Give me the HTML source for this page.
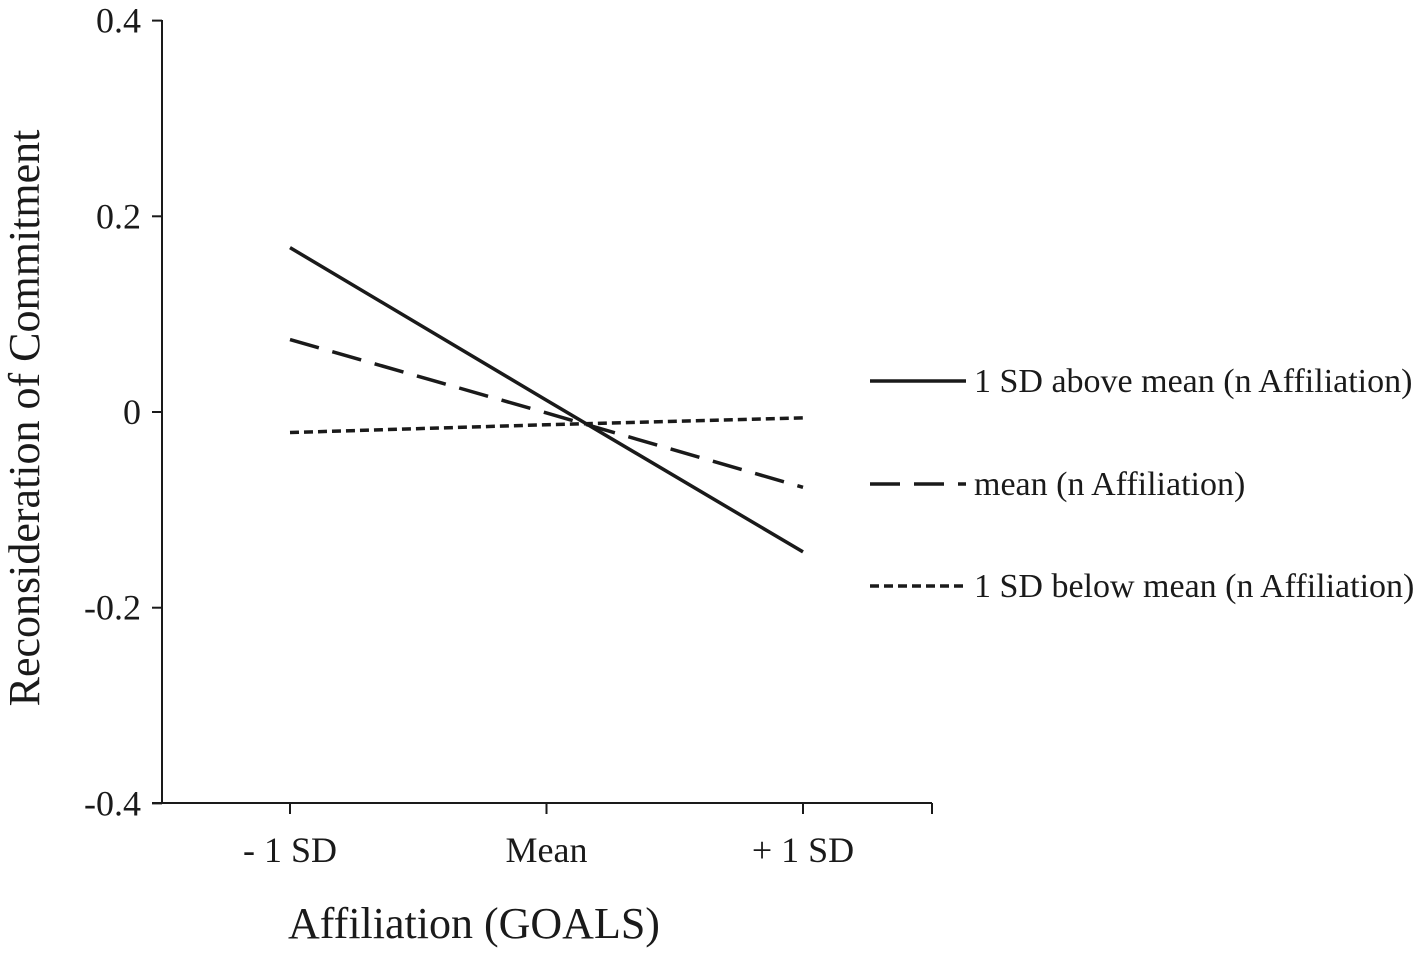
<!DOCTYPE html>
<html><head><meta charset="utf-8"><style>
body{margin:0;background:#fff}
svg text{font-family:"Liberation Serif",serif;fill:#1a1a1a}
</style></head><body>
<svg width="1421" height="950" xmlns="http://www.w3.org/2000/svg">
<g id="plot"></g>
</svg>
<script>
const categories=["- 1 SD","Mean","+ 1 SD"];
const yTicks=[0.4,0.2,0,-0.2,-0.4];
const yTickLabels=["0.4","0.2","0","-0.2","-0.4"];
const seriesNames=["1 SD above mean (n Affiliation)","mean (n Affiliation)","1 SD below mean (n Affiliation)"];
const aboveVals=[0.168,0.012,-0.143];
const meanVals=[0.074,-0.001,-0.077];
const belowVals=[-0.021,-0.013,-0.006];
const dashes=["none","30,14","9,5"];
const NS="http://www.w3.org/2000/svg";
const g=document.getElementById('plot');
const yS=v=>412-v*978.5;
const xS=i=>290+i*256.5;
function el(t,a,txt){const e=document.createElementNS(NS,t);for(const k in a)e.setAttribute(k,a[k]);if(txt!==undefined)e.textContent=txt;g.appendChild(e);return e;}
let e;
e=el('line',{x1:162,y1:20,x2:162,y2:803,stroke:'#1a1a1a','stroke-width':2});


e=el('line',{x1:152,y1:803,x2:932,y2:803,stroke:'#1a1a1a','stroke-width':2});


yTicks.forEach((v,i)=>{
 e=el('line',{x1:152,y1:yS(v),x2:162,y2:yS(v),stroke:'#1a1a1a','stroke-width':2});
 
 
 e=el('text',{x:141,y:yS(v)+12,'text-anchor':'end','font-size':36},yTickLabels[i]);
 
 
});
categories.forEach((c,i)=>{
 e=el('line',{x1:xS(i),y1:803,x2:xS(i),y2:814,stroke:'#1a1a1a','stroke-width':2});
 
 
 e=el('text',{x:xS(i),y:862,'text-anchor':'middle','font-size':36},c);
 
 
});
e=el('line',{x1:932,y1:803,x2:932,y2:814,stroke:'#1a1a1a','stroke-width':2});


e=el('text',{x:474,y:938,'text-anchor':'middle','font-size':44},"Affiliation (GOALS)");


e=el('text',{x:0,y:0,'text-anchor':'middle','font-size':44,transform:'translate(39,418) rotate(-90)'},"Reconsideration of Commitment");


const all=[aboveVals,meanVals,belowVals];
const legY=[381,484,586];
all.forEach((vals,s)=>{
 const pts=vals.map((v,i)=>xS(i)+','+yS(v)).join(' ');
 e=el('polyline',{points:pts,fill:'none',stroke:'#1a1a1a','stroke-width':3.5,'stroke-dasharray':dashes[s]});
 
 
 e=el('line',{x1:870,y1:legY[s],x2:966,y2:legY[s],stroke:'#1a1a1a','stroke-width':3.5,'stroke-dasharray':dashes[s]});
 
 
 e=el('text',{x:974,y:legY[s]+11,'font-size':34},seriesNames[s]);
 
 
});
</script>
</body></html>
